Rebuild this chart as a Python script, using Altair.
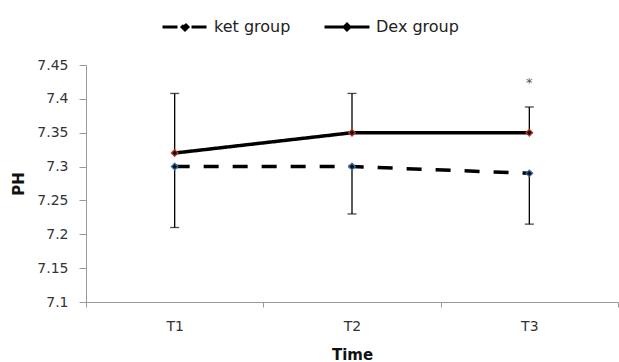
import altair as alt
import pandas as pd

times = ["T1", "T2", "T3"]
groups = ["ket group", "Dex group"]
ket_mean = [7.30, 7.30, 7.29]
ket_lower = [7.21, 7.23, 7.215]
dex_mean = [7.32, 7.35, 7.35]
dex_upper = [7.408, 7.408, 7.388]
star_time = ["T3"]
star_value = [7.423]
y_ticks = [7.1, 7.15, 7.2, 7.25, 7.3, 7.35, 7.4, 7.45]

rows = []
for t, m, lo in zip(times, ket_mean, ket_lower):
    rows.append({"Time": t, "group": "ket group", "grp": "ket", "PH": m, "bar_from": m, "bar_to": lo})
for t, m, hi in zip(times, dex_mean, dex_upper):
    rows.append({"Time": t, "group": "Dex group", "grp": "Dex", "PH": m, "bar_from": m, "bar_to": hi})
df = pd.DataFrame(rows)
stars = pd.DataFrame({"Time": star_time, "PH": star_value, "label": ["*"]})

FONT = "DejaVu Sans"

x_axis = alt.Axis(title="Time", labelAngle=0, tickBand="extent",
                  domainColor="#9a9a9a", tickColor="#9a9a9a", tickSize=5,
                  labelColor="#333333", labelFontSize=14, labelFont=FONT,
                  labelPadding=12, titleFont=FONT, titleFontSize=15,
                  titleFontWeight="bold", titleColor="#111111", titlePadding=14)
x = alt.X("Time:N", sort=times,
          scale=alt.Scale(paddingInner=0, paddingOuter=0), axis=x_axis)
y_scale = alt.Scale(domain=[7.1, 7.45], nice=False, zero=False)
y_axis = alt.Axis(title="PH", values=y_ticks, format=".2~f", grid=False,
                  domainColor="#9a9a9a", tickColor="#9a9a9a", tickSize=7,
                  labelColor="#333333", labelFontSize=14, labelFont=FONT,
                  labelPadding=11, labelOverlap=False, titleFont=FONT, titleFontSize=15,
                  titleFontWeight="bold", titleColor="#111111", titlePadding=10)
y = alt.Y("PH:Q", scale=y_scale, axis=y_axis)

base = alt.Chart(df)

bars = base.mark_rule(color="black", strokeWidth=1.3).encode(
    x=x, y=alt.Y("bar_from:Q", scale=y_scale, axis=y_axis), y2="bar_to:Q")
caps = base.mark_tick(color="black", orient="horizontal", size=9, thickness=1.3).encode(
    x=x, y=alt.Y("bar_to:Q", scale=y_scale, axis=y_axis))

lines = base.mark_line(strokeWidth=3.5, color="black").encode(
    x=x, y=y,
    strokeDash=alt.StrokeDash("group:N", sort=groups,
        scale=alt.Scale(domain=groups, range=[[15, 14], [1, 0]]),
        legend=alt.Legend(title=None, orient="none", legendX=75, legendY=-62,
                          direction="horizontal", columnPadding=27,
                          symbolType="M-1,0H1M0,-0.13L0.13,0L0,0.13L-0.13,0Z",
                          symbolSize=2025, symbolStrokeWidth=3,
                          symbolStrokeColor="black", symbolFillColor="black",
                          labelFont=FONT, labelFontSize=16, labelColor="#222222",
                          labelOffset=5)),
    detail="group:N")

points = base.mark_point(shape="diamond", filled=True, size=45, opacity=1,
                         strokeWidth=1.2).encode(
    x=x, y=y,
    fill=alt.value("#111111"),
    stroke=alt.Stroke("grp:N", scale=alt.Scale(domain=["ket", "Dex"], range=["#3a6fb0", "#c0392b"]),
                      legend=None))

star = alt.Chart(stars).mark_text(fontSize=13, color="#555555", font=FONT).encode(
    x=alt.X("Time:N", sort=times, axis=x_axis),
    y=alt.Y("PH:Q", scale=y_scale, axis=y_axis), text="label:N")

chart = alt.layer(bars, caps, lines, points, star).properties(
    width=532, height=237,
    autosize=alt.AutoSizeParams(type="none"),
    padding={"left": 86, "top": 65, "right": 1, "bottom": 60},
    background="white",
).configure_view(stroke=None)

chart.save("out.html", embed_options={"renderer": "svg", "actions": False})
